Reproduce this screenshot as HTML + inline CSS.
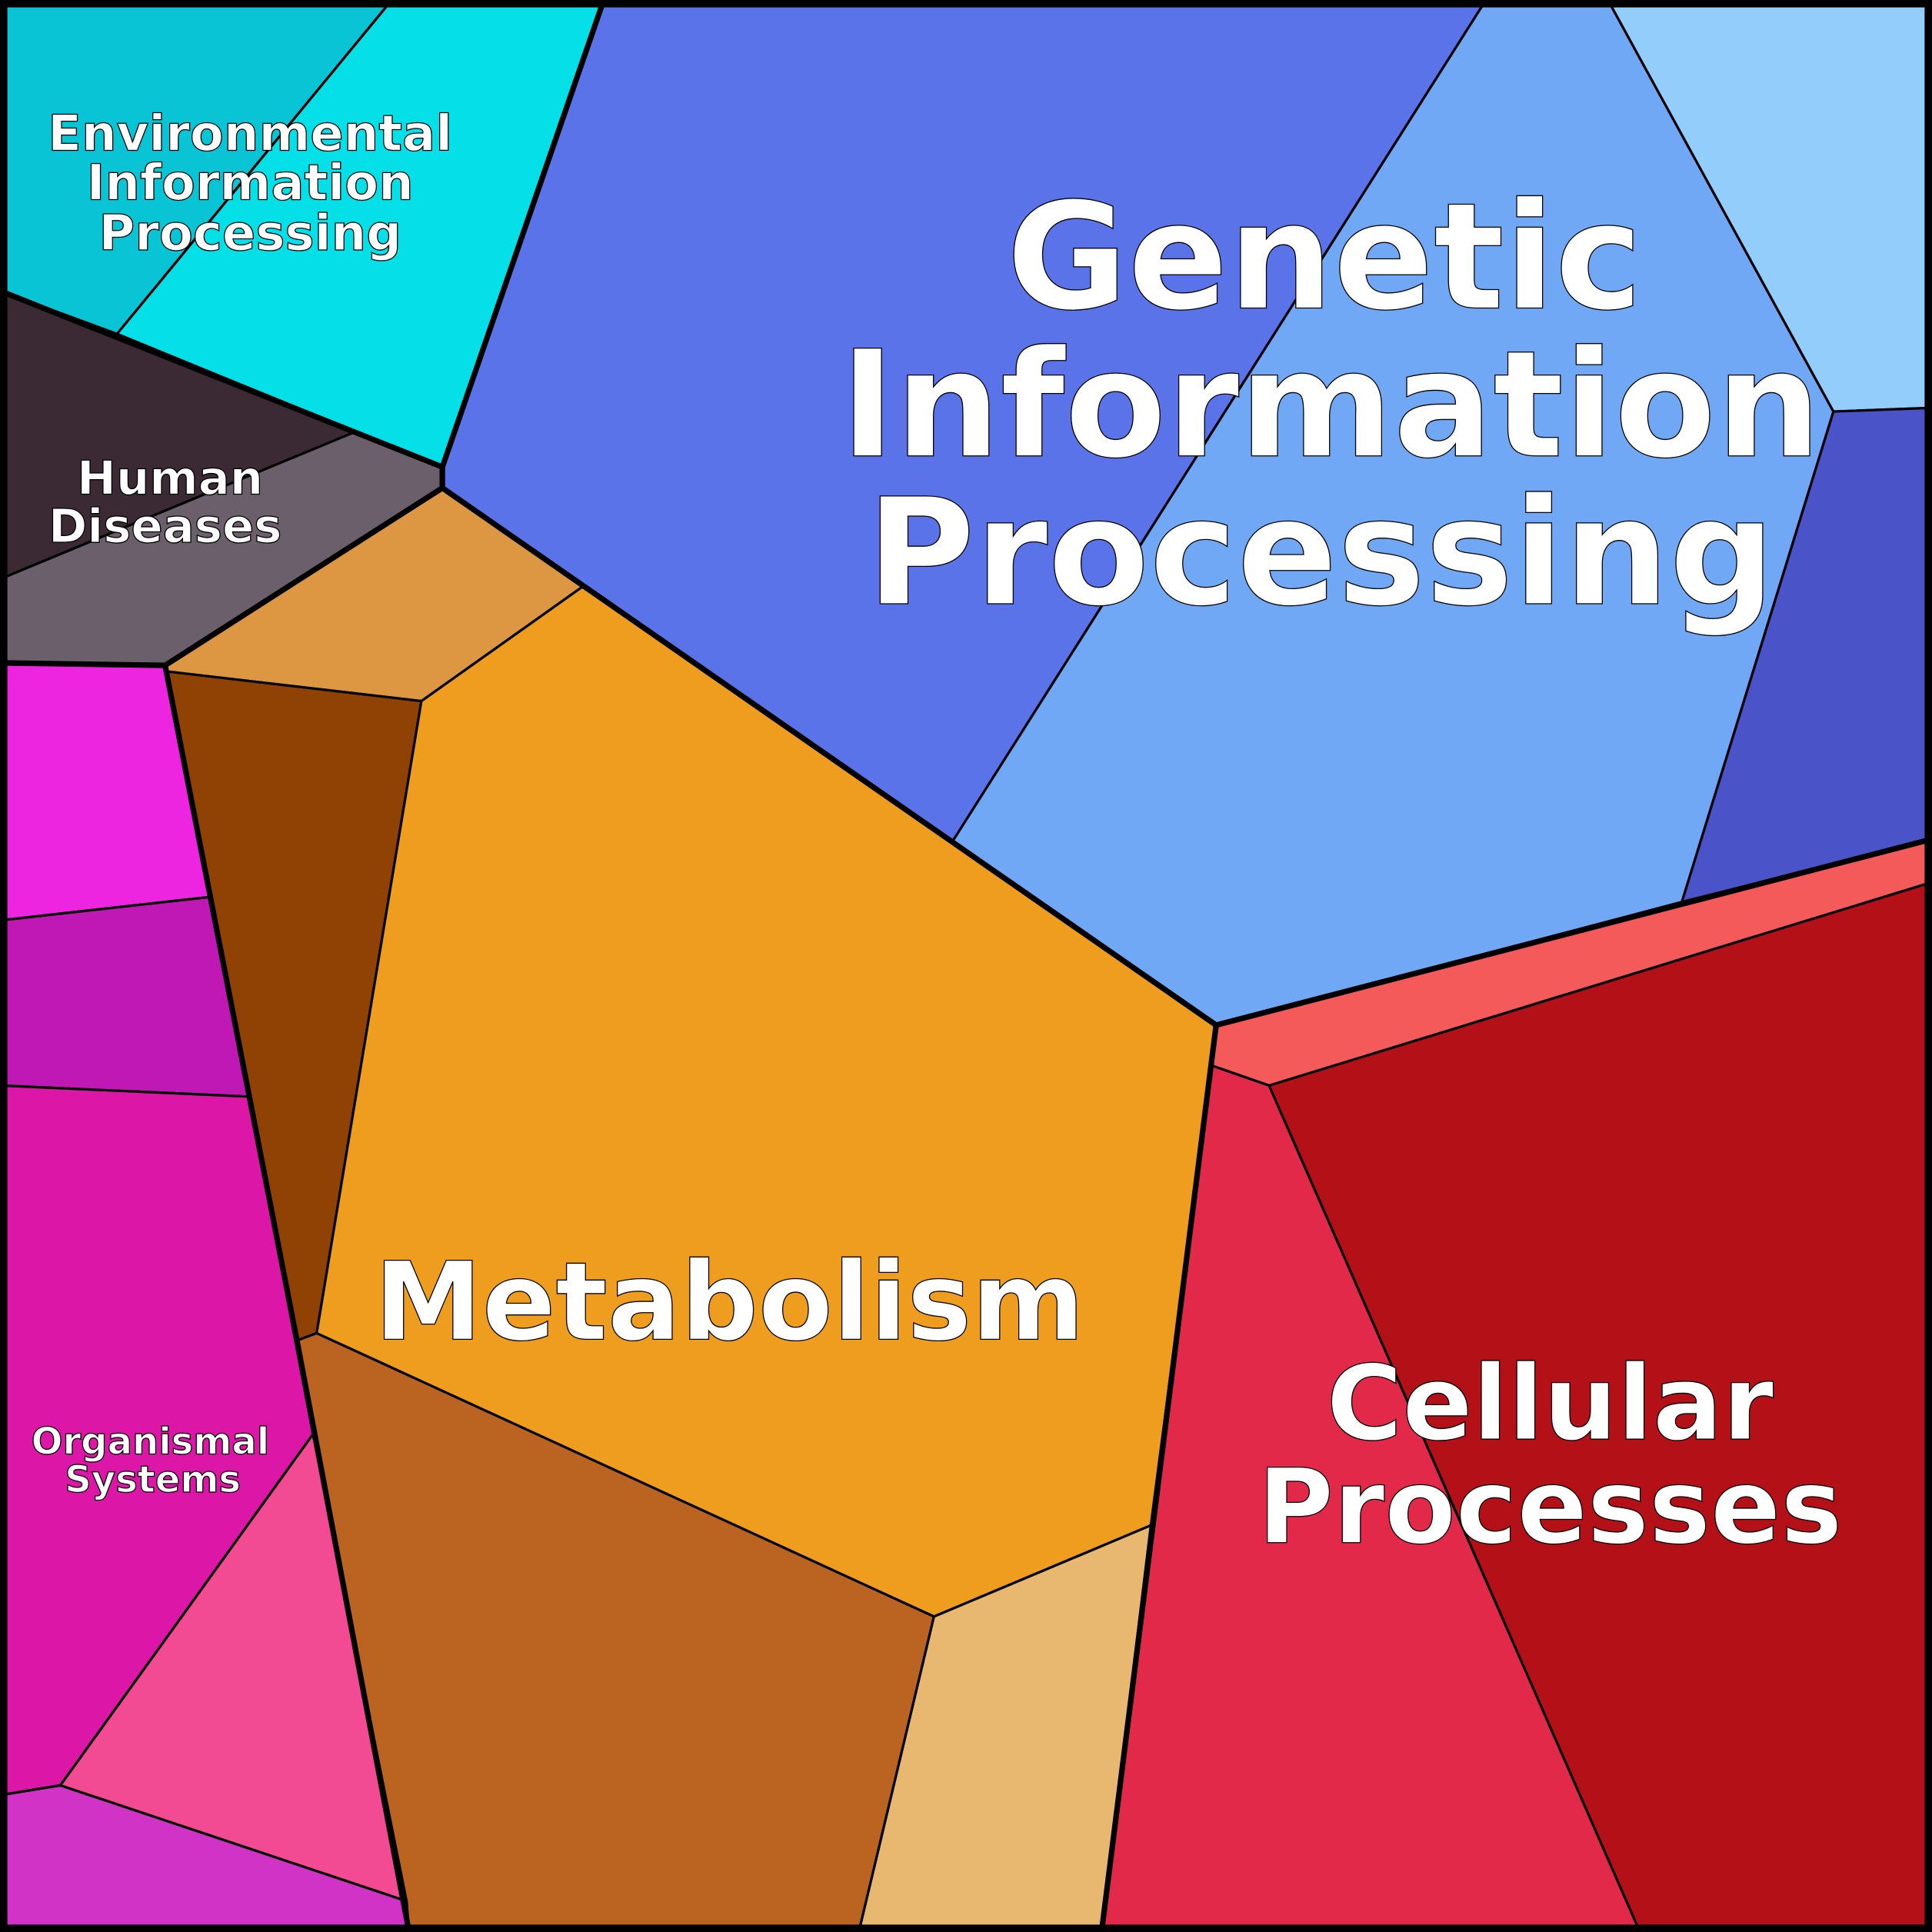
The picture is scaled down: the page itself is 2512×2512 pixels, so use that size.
<!DOCTYPE html>
<html><head><meta charset="utf-8"><style>
html,body{margin:0;padding:0;background:#fff}
svg{display:block}
text{font-family:"DejaVu Sans","Liberation Sans",sans-serif;font-weight:bold;fill:#fff;stroke:#000;stroke-width:0.8;text-anchor:middle}
</style></head><body>
<svg width="2512" height="2512" viewBox="0 0 1568 1568" xmlns="http://www.w3.org/2000/svg">
<g stroke="#000" stroke-width="2" stroke-linejoin="round">
<polygon fill="#08c4d4" points="0,0 318,0 95,271 0,236"/>
<polygon fill="#05e0e8" points="318,0 490,0 359,379 95,271"/>
<polygon fill="#5b73e8" points="490,0 1206,0 773,683 359,396 359,379"/>
<polygon fill="#70a8f5" points="1206,0 1305,0 1488,334 1365,732 987,832 773,683"/>
<polygon fill="#93cdfc" points="1305,0 1568,0 1568,331 1488,334"/>
<polygon fill="#4a53c8" points="1488,334 1568,331 1568,681 1365,732"/>
<polygon fill="#3b2933" points="0,236 287,351 0,470"/>
<polygon fill="#6a5f6b" points="287,351 359,379 359,396 134,540 0,538 0,470"/>
<polygon fill="#dd9642" points="359,396 473,476 342,569 136,545 134,540"/>
<polygon fill="#8f4204" points="136,545 342,569 257,1082 241,1088"/>
<polygon fill="#ee9d1e" points="473,476 773,683 987,832 934,1238 758,1312 257,1082 342,569"/>
<polygon fill="#bb6421" points="241,1088 257,1082 758,1312 697,1568 332,1568"/>
<polygon fill="#e8b870" points="758,1312 934,1238 894,1568 697,1568"/>
<polygon fill="#f55a5a" points="987,832 1568,681 1568,716 1030,881 984,865"/>
<polygon fill="#e3294a" points="984,865 1030,881 1331,1568 894,1568"/>
<polygon fill="#b31017" points="1030,881 1568,716 1568,1568 1331,1568"/>
<polygon fill="#ee25e0" points="0,538 134,540 170,728 0,747"/>
<polygon fill="#bf18b4" points="0,747 170,728 202,890 0,881"/>
<polygon fill="#dc17a8" points="0,881 202,890 254,1164 49,1449 0,1457"/>
<polygon fill="#f24a93" points="254,1164 330,1543 49,1449"/>
<polygon fill="#d233c7" points="0,1457 49,1449 330,1543 332,1568 0,1568"/>
</g>
<g stroke="#000" stroke-width="4.5" fill="none" stroke-linejoin="round">
<polyline points="0,236 359,379 359,396 134,540 0,538"/>
<polyline points="490,0 359,379"/>
<polyline points="359,396 987,832 1568,681"/>
<polyline points="987,832 894,1568"/>
<polyline points="134,540 241,1088 332,1568"/>
<rect x="3" y="3" width="1562" height="1562" stroke-width="6"/>
</g>
<text font-size="120" x="1075" y="250">Genetic</text>
<text font-size="120" x="1080" y="370">Information</text>
<text font-size="120" x="1072" y="490">Processing</text>
<text font-size="88" x="592" y="1087">Metabolism</text>
<text font-size="84" x="1258" y="1168">Cellular</text>
<text font-size="84" x="1258" y="1252">Processes</text>
<text font-size="40" x="203" y="122">Environmental</text>
<text font-size="40" x="203" y="162">Information</text>
<text font-size="40" x="203" y="203">Processing</text>
<text font-size="38" x="138" y="401">Human</text>
<text font-size="38" x="134" y="440">Diseases</text>
<text font-size="30" x="122" y="1180">Organismal</text>
<text font-size="30" x="124" y="1211">Systems</text>
</svg>
</body></html>
